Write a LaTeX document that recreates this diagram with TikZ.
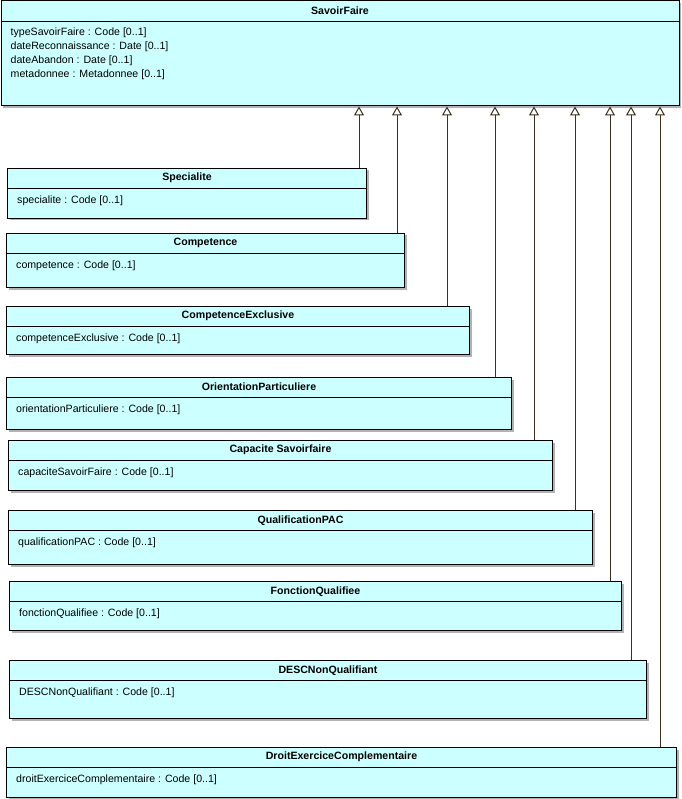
\documentclass[tikz,border=0pt]{standalone}
\usepackage{fontspec}
\setmainfont{Liberation Sans}
\usepackage{tikz}
\usetikzlibrary{arrows.meta,positioning,shadows}
\definecolor{sfcyan}{RGB}{204,255,255}
\definecolor{sfbrown}{RGB}{62,46,30}
\tikzstyle{classbox} = [rectangle, draw=black, line width=1pt, fill=sfcyan, anchor=north west, inner sep=0pt, drop shadow={shadow xshift=2pt, shadow yshift=-2pt, fill=black!30, opacity=1}]
\tikzstyle{classtitle} = [font=\fontsize{10.6}{14}\selectfont\bfseries, minimum height=20pt, inner sep=0pt]
\tikzstyle{classattr} = [font=\fontsize{10.6}{14}\selectfont, align=left, anchor=north west, inner sep=0pt]
\tikzstyle{classsep} = [line width=1pt, draw=black]
\tikzstyle{inherit} = [line width=1pt, color=sfbrown, -{Triangle[open, width=10pt, length=9pt]}]

\begin{document}
\begin{tikzpicture}[x=1pt, y=-1pt]
\useasboundingbox (0,0) rectangle (681,799);

% Parent class
\node (savoir) [classbox, minimum width=678, minimum height=105] at (0.5,0.5) {};
\node (savoirT) [classtitle, below=0pt of savoir.north, minimum height=21pt] {SavoirFaire};
\draw [classsep] (savoirT.south -| savoir.west) -- (savoirT.south -| savoir.east);
\node (savoirA) [classattr] at ([shift={(10,27.5)}]savoir.north west) {typeSavoirFaire : Code [0..1]\\ dateReconnaissance : Date [0..1]\\ dateAbandon : Date [0..1]\\ metadonnee : Metadonnee [0..1]};

% Sub classes
\node (spec) [classbox, minimum width=359, minimum height=50] at (7,168) {};
\node (specT) [classtitle, below=0pt of spec.north] {Specialite};
\draw [classsep] (specT.south -| spec.west) -- (specT.south -| spec.east);
\node (specA) [classattr] at ([shift={(10,27.5)}]spec.north west) {specialite : Code [0..1]};

\node (comp) [classbox, minimum width=398, minimum height=54] at (6,233) {};
\node (compT) [classtitle, below=0pt of comp.north] {Competence};
\draw [classsep] (compT.south -| comp.west) -- (compT.south -| comp.east);
\node (compA) [classattr] at ([shift={(10,27.5)}]comp.north west) {competence : Code [0..1]};

\node (compex) [classbox, minimum width=463, minimum height=48] at (6,306) {};
\node (compexT) [classtitle, below=0pt of compex.north] {CompetenceExclusive};
\draw [classsep] (compexT.south -| compex.west) -- (compexT.south -| compex.east);
\node (compexA) [classattr] at ([shift={(10,27.5)}]compex.north west) {competenceExclusive : Code [0..1]};

\node (orient) [classbox, minimum width=505, minimum height=52] at (6,377) {};
\node (orientT) [classtitle, below=0pt of orient.north] {OrientationParticuliere};
\draw [classsep] (orientT.south -| orient.west) -- (orientT.south -| orient.east);
\node (orientA) [classattr] at ([shift={(10,27.5)}]orient.north west) {orientationParticuliere : Code [0..1]};

\node (capa) [classbox, minimum width=544, minimum height=50] at (8,440) {};
\node (capaT) [classtitle, below=0pt of capa.north] {Capacite Savoirfaire};
\draw [classsep] (capaT.south -| capa.west) -- (capaT.south -| capa.east);
\node (capaA) [classattr] at ([shift={(10,27.5)}]capa.north west) {capaciteSavoirFaire : Code [0..1]};

\node (qualif) [classbox, minimum width=584, minimum height=54] at (8,510) {};
\node (qualifT) [classtitle, below=0pt of qualif.north] {QualificationPAC};
\draw [classsep] (qualifT.south -| qualif.west) -- (qualifT.south -| qualif.east);
\node (qualifA) [classattr] at ([shift={(10,27.5)}]qualif.north west) {qualificationPAC : Code [0..1]};

\node (fonct) [classbox, minimum width=612, minimum height=49] at (9,581) {};
\node (fonctT) [classtitle, below=0pt of fonct.north] {FonctionQualifiee};
\draw [classsep] (fonctT.south -| fonct.west) -- (fonctT.south -| fonct.east);
\node (fonctA) [classattr] at ([shift={(10,27.5)}]fonct.north west) {fonctionQualifiee : Code [0..1]};

\node (desc) [classbox, minimum width=637, minimum height=58] at (9,660) {};
\node (descT) [classtitle, below=0pt of desc.north] {DESCNonQualifiant};
\draw [classsep] (descT.south -| desc.west) -- (descT.south -| desc.east);
\node (descA) [classattr] at ([shift={(10,27.5)}]desc.north west) {DESCNonQualifiant : Code [0..1]};

\node (droit) [classbox, minimum width=670, minimum height=50] at (6,747) {};
\node (droitT) [classtitle, below=0pt of droit.north] {DroitExerciceComplementaire};
\draw [classsep] (droitT.south -| droit.west) -- (droitT.south -| droit.east);
\node (droitA) [classattr] at ([shift={(10,27.5)}]droit.north west) {droitExerciceComplementaire : Code [0..1]};

% Generalisations
\draw [inherit] ([xshift=-8]spec.north east) -- ([xshift=-8]spec.north east |- savoir.south);
\draw [inherit] ([xshift=-8]comp.north east) -- ([xshift=-8]comp.north east |- savoir.south);
\draw [inherit] ([xshift=-23]compex.north east) -- ([xshift=-23]compex.north east |- savoir.south);
\draw [inherit] ([xshift=-17]orient.north east) -- ([xshift=-17]orient.north east |- savoir.south);
\draw [inherit] ([xshift=-19]capa.north east) -- ([xshift=-19]capa.north east |- savoir.south);
\draw [inherit] ([xshift=-18]qualif.north east) -- ([xshift=-18]qualif.north east |- savoir.south);
\draw [inherit] ([xshift=-12]fonct.north east) -- ([xshift=-12]fonct.north east |- savoir.south);
\draw [inherit] ([xshift=-16]desc.north east) -- ([xshift=-16]desc.north east |- savoir.south);
\draw [inherit] ([xshift=-17]droit.north east) -- ([xshift=-17]droit.north east |- savoir.south);
\end{tikzpicture}
\end{document}
